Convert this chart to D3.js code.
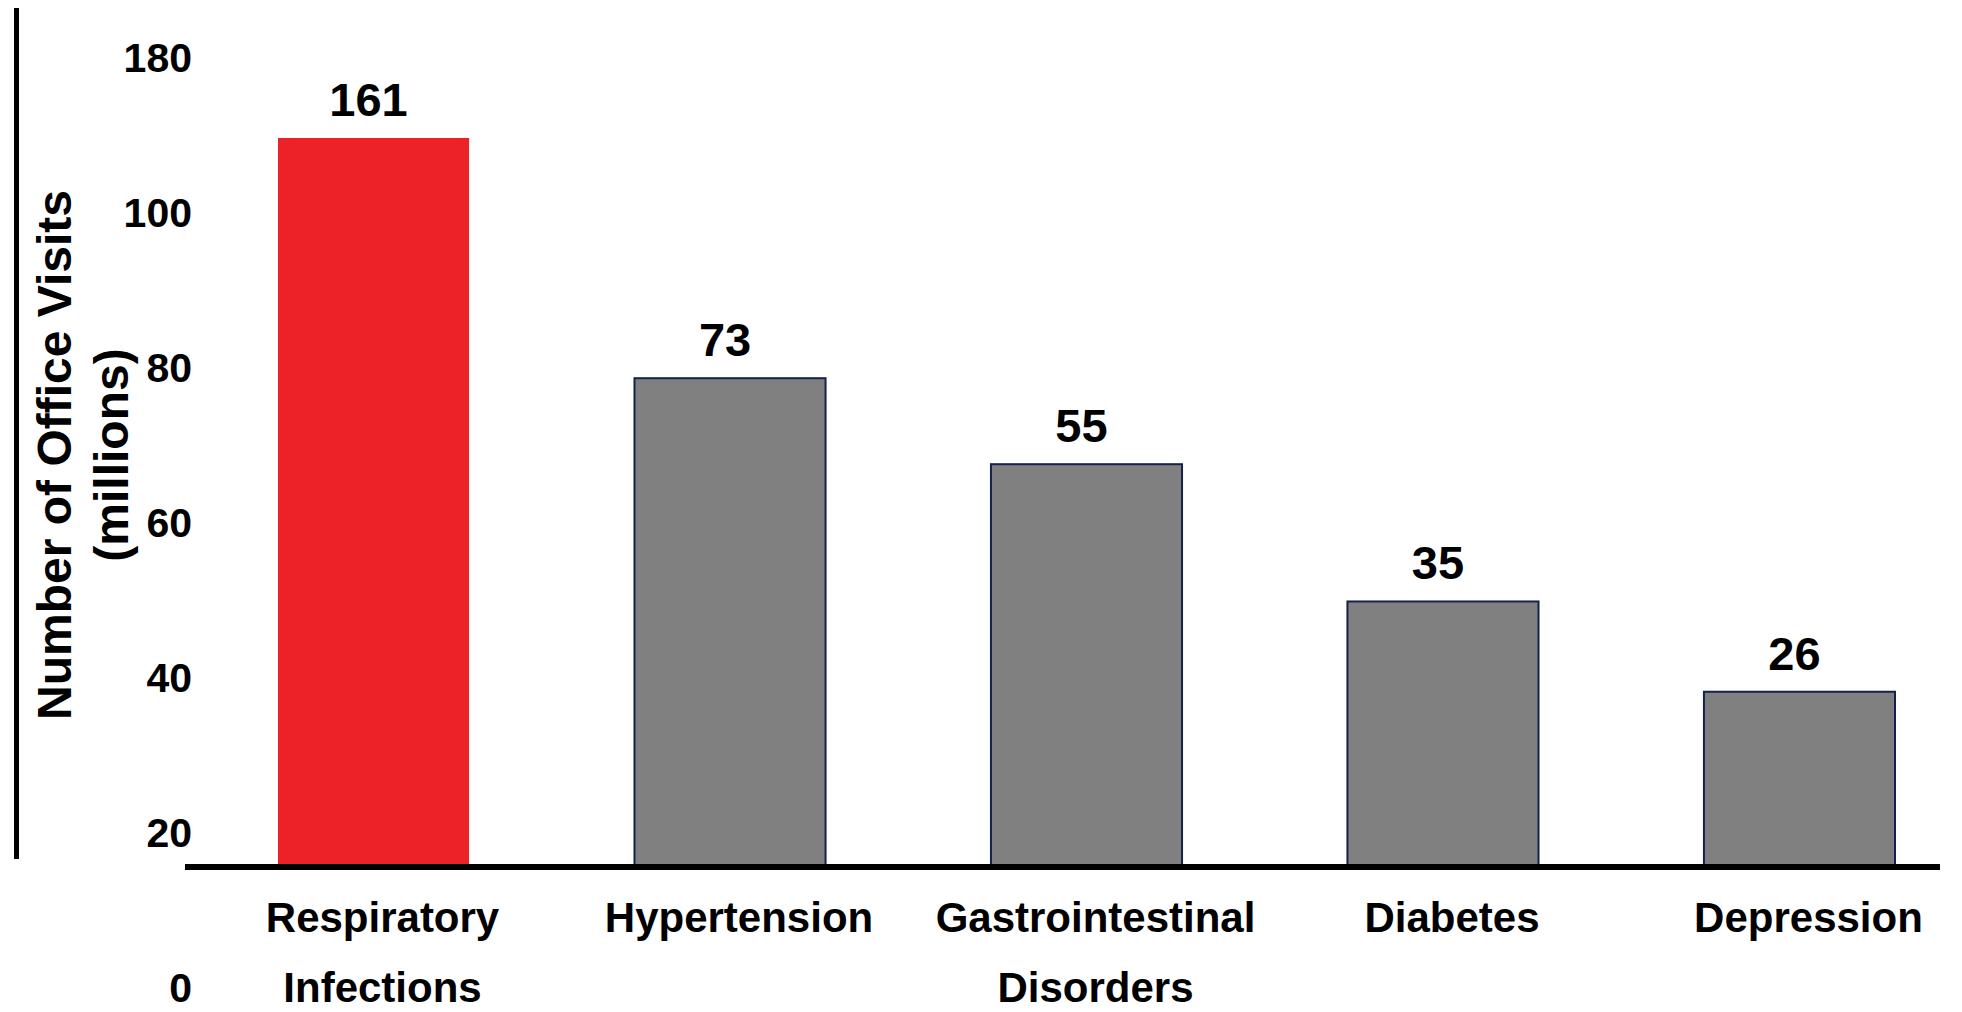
<!DOCTYPE html>
<html>
<head>
<meta charset="utf-8">
<script src="https://cdn.jsdelivr.net/npm/d3@7"></script>
<style>
  html, body { margin: 0; padding: 0; background: #ffffff; }
  svg { display: block; }
  text { font-family: "Liberation Sans", Arial, "DejaVu Sans", sans-serif; font-weight: bold; fill: #000; }
</style>
</head>
<body>
<svg id="chart" width="1962" height="1012"></svg>
<script>
// Office visits by condition (millions)
const categories = ["Respiratory Infections", "Hypertension", "Gastrointestinal Disorders", "Diabetes", "Depression"];
const visits = [161, 73, 55, 35, 26];
const highlight = ["Respiratory Infections"];
const tickLabels = ["0", "20", "40", "60", "80", "100", "180"];

const baseY = 867;          // category axis line
const plotLeft = 278, plotRight = 1895;

const svg = d3.select("#chart");

// Category positions
const x = d3.scaleBand()
  .domain(categories)
  .range([plotLeft, plotRight])
  .paddingInner(0.464)
  .paddingOuter(0);

// Bar heights grow with the log of the visit count
const y = d3.scaleLog()
  .domain([14.6, 161])
  .range([baseY, 138]);

// Value axis labels, evenly stepped
const yTicks = d3.scalePoint()
  .domain(tickLabels)
  .range([1002, 72]);

// Vertical axis rule
svg.append("line")
  .attr("x1", 16.5).attr("x2", 16.5)
  .attr("y1", 8).attr("y2", 859)
  .attr("stroke", "#000").attr("stroke-width", 5);

// Tick labels
svg.append("g").selectAll("text")
  .data(tickLabels)
  .join("text")
  .attr("x", 192)
  .attr("y", d => yTicks(d))
  .attr("text-anchor", "end")
  .attr("font-size", 41)
  .text(d => d);

// Axis title
const title = svg.append("text")
  .attr("transform", "translate(71,455) rotate(-90)")
  .attr("text-anchor", "middle")
  .attr("font-size", 48);
title.append("tspan").attr("x", 0).attr("y", 0).text("Number of Office Visits");
title.append("tspan").attr("x", 0).attr("y", 57).text("(millions)");

// Bars
const rows = categories.map((c, i) => ({ cat: c, value: visits[i] }));

svg.append("g").selectAll("rect")
  .data(rows)
  .join("rect")
  .attr("x", d => x(d.cat))
  .attr("y", d => y(d.value))
  .attr("width", x.bandwidth())
  .attr("height", d => baseY - y(d.value))
  .attr("fill", d => highlight.includes(d.cat) ? "#ED2229" : "#808080")
  .attr("stroke", d => highlight.includes(d.cat) ? "none" : "#13224a")
  .attr("stroke-width", 2);

// Value labels above bars
svg.append("g").selectAll("text")
  .data(rows)
  .join("text")
  .attr("x", d => x(d.cat) + x.bandwidth() / 2 - 5)
  .attr("y", d => y(d.value) - 22)
  .attr("text-anchor", "middle")
  .attr("font-size", 47)
  .text(d => d.value);

// Category axis line
svg.append("line")
  .attr("x1", 185).attr("x2", 1940)
  .attr("y1", baseY).attr("y2", baseY)
  .attr("stroke", "#000").attr("stroke-width", 6);

// Category labels (two-word names wrap onto a second line)
const catLabels = svg.append("g").selectAll("text")
  .data(categories)
  .join("text")
  .attr("text-anchor", "middle")
  .attr("font-size", 42);

catLabels.each(function (d) {
  const cx = x(d) + x.bandwidth() / 2 + 9;
  const words = d.split(" ");
  d3.select(this).selectAll("tspan")
    .data(words)
    .join("tspan")
    .attr("x", cx)
    .attr("y", (w, i) => 932 + i * 70)
    .text(w => w);
});
</script>
</body>
</html>
